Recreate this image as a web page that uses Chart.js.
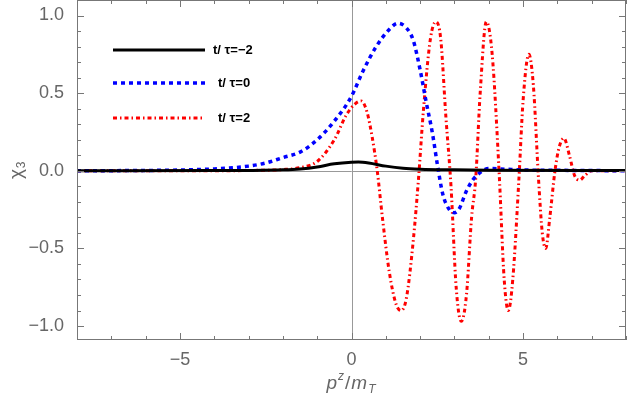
<!DOCTYPE html>
<html>
<head>
<meta charset="utf-8">
<script src="https://cdn.jsdelivr.net/npm/chart.js@4"></script>
<style>
  html, body { margin: 0; padding: 0; background: #fff; }
  #wrap { width: 628px; height: 399px; }
</style>
</head>
<body>
<div id="wrap"><canvas id="myChart" width="628" height="399"></canvas></div>
<script>
// series labels
var labels = ["t/ \u03C4=\u22122", "t/ \u03C4=0", "t/ \u03C4=2"];

// t/tau = -2 (solid black)
var xm2 = [-8, -4, -3, -2, -1.5, -1, -0.5, 0, 0.2, 0.5, 1, 1.5, 2, 3, 4, 8];
var ym2 = [0, 0.001, 0.002, 0.006, 0.012, 0.025, 0.045, 0.055, 0.056, 0.05, 0.03, 0.016, 0.01, 0.006, 0.004, 0.002];

// t/tau = 0 (blue dotted)
var x0 = [-8, -6, -5, -4, -3, -2.5, -2, -1.5, -1, -0.5, 0, 0.33, 0.72, 1.1, 1.35, 1.6, 1.8, 2.0, 2.17, 2.36, 2.51, 2.66, 2.85, 3.0, 3.15, 3.33, 3.53, 3.65, 4.0, 4.5, 5, 6, 8];
var y0 = [0, 0.002, 0.005, 0.012, 0.03, 0.05, 0.085, 0.12, 0.2, 0.32, 0.48, 0.64, 0.8, 0.91, 0.95, 0.92, 0.84, 0.65, 0.45, 0.24, 0.03, -0.15, -0.25, -0.27, -0.24, -0.14, -0.06, -0.03, 0.015, 0.01, 0.005, 0.003, 0];

// t/tau = 2 (red dot-dash)
var xp2 = [-8, -4, -3, -2, -1.5, -1, -0.5, -0.15, 0.1, 0.28, 0.45, 0.6, 0.75, 0.9, 1.1, 1.3, 1.45, 1.6, 1.8, 1.95, 2.1, 2.3, 2.46, 2.6, 2.75, 2.9, 3.05, 3.2, 3.35, 3.5, 3.62, 3.75, 3.93, 4.1, 4.3, 4.45, 4.57, 4.7, 4.88, 5.0, 5.17, 5.3, 5.45, 5.56, 5.66, 5.78, 5.93, 6.05, 6.19, 6.35, 6.5, 6.65, 6.8, 7.0, 8];
var yp2 = [0, 0, 0.002, 0.008, 0.02, 0.06, 0.2, 0.36, 0.43, 0.45, 0.38, 0.22, 0.0, -0.3, -0.65, -0.86, -0.9, -0.82, -0.45, -0.06, 0.4, 0.85, 0.96, 0.85, 0.35, -0.1, -0.75, -0.97, -0.8, -0.3, -0.05, 0.5, 0.96, 0.75, 0.0, -0.7, -0.9, -0.7, -0.05, 0.45, 0.75, 0.55, -0.05, -0.4, -0.5, -0.3, 0.0, 0.15, 0.21, 0.1, -0.03, -0.06, -0.03, 0, 0];

// axis ranges and ticks
var xMin = -8, xMax = 8;
var yMin = -1.09, yMax = 1.1;
var xMajor = [-5, 0, 5];
var yMajor = [-1, -0.5, 0, 0.5, 1];

function pts(xs, ys) {
  return xs.map(function (x, i) { return { x: x, y: ys[i] }; });
}

var colors = ["#000000", "#0000ff", "#ff0000"];
var dashes = [[], [4, 4], [4, 3, 1.5, 3]];
var widths = [3, 3.5, 3];

var axisColor = "#777";
var textColor = "#666";
var fam = "'Liberation Sans', Arial, sans-serif";

// frame, inward ticks, zero axes, legend and axis titles
var decor = {
  id: "decor",
  beforeDatasetsDraw: function (chart) {
    var c = chart.ctx, a = chart.chartArea;
    var xs = chart.scales.x, ys = chart.scales.y;
    c.save();
    c.strokeStyle = "#999";
    c.lineWidth = 1;
    var px = Math.round(xs.getPixelForValue(0)) + 0.5;
    var py = Math.round(ys.getPixelForValue(0)) + 0.5;
    c.beginPath();
    c.moveTo(px, a.top); c.lineTo(px, a.bottom);
    c.moveTo(a.left, py); c.lineTo(a.right, py);
    c.stroke();
    c.restore();
  },
  afterDraw: function (chart) {
    var c = chart.ctx, a = chart.chartArea;
    var xs = chart.scales.x, ys = chart.scales.y;
    c.save();
    c.strokeStyle = axisColor;
    c.lineWidth = 1;
    c.strokeRect(a.left + 0.5, a.top + 0.5, a.right - a.left - 1, a.bottom - a.top - 1);
    c.beginPath();
    var v, p, len;
    for (var i = xMin; i <= xMax; i++) {
      p = Math.round(xs.getPixelForValue(i)) + 0.5;
      len = (i % 5 === 0) ? 7 : 4;
      c.moveTo(p, a.bottom); c.lineTo(p, a.bottom - len);
      c.moveTo(p, a.top); c.lineTo(p, a.top + len);
    }
    for (var k = -10; k <= 11; k++) {
      v = k / 10;
      p = Math.round(ys.getPixelForValue(v)) + 0.5;
      len = (k % 5 === 0) ? 7 : 4;
      c.moveTo(a.left, p); c.lineTo(a.left + len, p);
      c.moveTo(a.right, p); c.lineTo(a.right - len, p);
    }
    c.stroke();

    // legend
    var ly = [50, 83, 118];
    var tx = [213, 218, 218];
    c.font = "bold 13px " + fam;
    c.textBaseline = "middle";
    c.textAlign = "left";
    for (var j = 0; j < 3; j++) {
      c.beginPath();
      c.setLineDash(dashes[j]);
      c.strokeStyle = colors[j];
      c.lineWidth = widths[j];
      c.moveTo(113, ly[j]); c.lineTo(205, ly[j]);
      c.stroke();
      c.setLineDash([]);
      c.fillStyle = "#000";
      c.fillText(labels[j], tx[j], ly[j]);
    }

    // x title: p^z/m_T
    c.fillStyle = textColor;
    c.textBaseline = "alphabetic";
    var cx = (a.left + a.right) / 2, by = 389;
    var big = "italic 19px " + fam;
    var small = "italic 12px " + fam;
    var parts = [["p", big, 0], ["z", small, -9], ["/", "19px " + fam, 0], ["m", big, 0], ["T", small, 4]];
    var total = 0;
    parts.forEach(function (q) { c.font = q[1]; total += c.measureText(q[0]).width + 1; });
    var x = cx - total / 2;
    parts.forEach(function (q) { c.font = q[1]; c.fillText(q[0], x, by + q[2]); x += c.measureText(q[0]).width + 1; });

    // y title: chi_3
    c.translate(22, ys.getPixelForValue(0));
    c.rotate(-Math.PI / 2);
    c.font = "19px " + fam;
    var w1 = c.measureText("\u03C7").width;
    c.font = "12px " + fam;
    var w2 = c.measureText("3").width;
    var sx = -(w1 + w2) / 2;
    c.font = "19px " + fam;
    c.fillText("\u03C7", sx, 0);
    c.font = "12px " + fam;
    c.fillText("3", sx + w1 + 1, 3);
    c.restore();
  }
};

var ctx = document.getElementById("myChart");
var myChart = new Chart(ctx, {
  type: "line",
  data: {
    datasets: [
      { label: labels[0], data: pts(xm2, ym2), borderColor: colors[0], borderWidth: widths[0], borderDash: dashes[0] },
      { label: labels[1], data: pts(x0, y0), borderColor: colors[1], borderWidth: widths[1], borderDash: dashes[1] },
      { label: labels[2], data: pts(xp2, yp2), borderColor: colors[2], borderWidth: widths[2], borderDash: dashes[2] }
    ].map(function (d) {
      d.pointRadius = 0;
      d.fill = false;
      d.cubicInterpolationMode = "monotone";
      return d;
    })
  },
  options: {
    responsive: false,
    animation: false,
    layout: { padding: { top: 0, right: 2, left: 0, bottom: 0 } },
    plugins: { legend: { display: false }, tooltip: { enabled: false } },
    scales: {
      x: {
        type: "linear",
        min: xMin, max: xMax,
        grid: { display: false },
        border: { display: false },
        afterFit: function (s) { s.height = 59; s.paddingLeft = 0; s.paddingRight = 0; },
        afterBuildTicks: function (s) { s.ticks = xMajor.map(function (v) { return { value: v }; }); },
        ticks: {
          padding: 1,
          color: textColor,
          font: { size: 18, family: fam },
          callback: function (v) { return v < 0 ? "\u2212" + Math.abs(v) : String(v); }
        }
      },
      y: {
        min: yMin, max: yMax,
        grid: { display: false },
        border: { display: false },
        afterFit: function (s) { s.width = 77; s.paddingTop = 0; s.paddingBottom = 0; },
        afterBuildTicks: function (s) { s.ticks = yMajor.map(function (v) { return { value: v }; }); },
        ticks: {
          padding: 5,
          color: textColor,
          font: { size: 18, family: fam },
          callback: function (v) { var t = Math.abs(v).toFixed(1); return v < 0 ? "\u2212" + t : t; }
        }
      }
    }
  },
  plugins: [decor]
});
</script>
</body>
</html>
